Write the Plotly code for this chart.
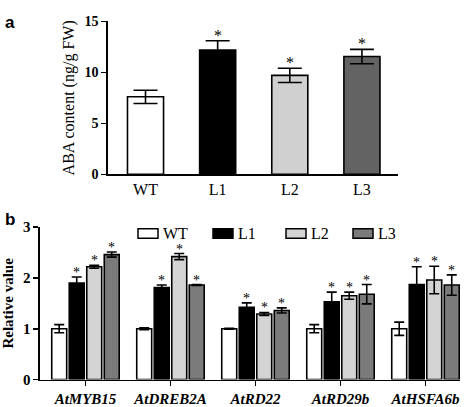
import plotly.graph_objects as go

# ---------------- data ----------------
a_groups = ["WT", "L1", "L2", "L3"]
a_values = [7.6, 12.2, 9.7, 11.55]
a_errors = [0.65, 0.9, 0.7, 0.7]
a_colors = ["#ffffff", "#000000", "#d0d0d0", "#636363"]
a_sig = [False, True, True, True]
a_yticks = [0, 5, 10, 15]

b_genes = ["AtMYB15", "AtDREB2A", "AtRD22", "AtRD29b", "AtHSFA6b"]
b_series = ["WT", "L1", "L2", "L3"]
b_colors = ["#ffffff", "#000000", "#d4d4d4", "#7b7b7b"]
b_wt = [1.0, 1.0, 1.0, 1.0, 1.0]
b_wt_err = [0.08, 0.02, 0.01, 0.08, 0.13]
b_l1 = [1.90, 1.81, 1.42, 1.53, 1.87]
b_l1_err = [0.12, 0.05, 0.09, 0.19, 0.35]
b_l2 = [2.22, 2.42, 1.29, 1.65, 1.96]
b_l2_err = [0.03, 0.06, 0.03, 0.07, 0.27]
b_l3 = [2.46, 1.86, 1.36, 1.68, 1.86]
b_l3_err = [0.05, 0.01, 0.05, 0.19, 0.20]
b_sig = [False, True, True, True]
b_yticks = [0, 1, 2, 3]

W, H = 472, 407
SERIF = "Liberation Serif, Times New Roman, serif"

fig = go.Figure()

# ---------------- panel a ----------------
fig.add_trace(go.Bar(
    x=a_groups, y=a_values, width=0.5,
    marker=dict(color=a_colors, line=dict(color="black", width=1.6)),
    error_y=dict(type="data", array=a_errors, color="black", thickness=1.6, width=12),
    xaxis="x", yaxis="y", showlegend=False, hoverinfo="skip",
))
annotations = []
for i, (v, e, s) in enumerate(zip(a_values, a_errors, a_sig)):
    if s:
        annotations.append(dict(x=i, y=v + e, xref="x", yref="y", text="*", showarrow=False,
                                yanchor="bottom", yshift=-4, borderpad=0,
                                font=dict(family=SERIF, size=16, color="black")))

# ---------------- panel b ----------------
b_vals = [b_wt, b_l1, b_l2, b_l3]
b_errs = [b_wt_err, b_l1_err, b_l2_err, b_l3_err]
slot = 0.206
bw = 0.176
for k, name in enumerate(b_series):
    off = (k - 1.5) * slot
    fig.add_trace(go.Bar(
        x=list(range(len(b_genes))), y=b_vals[k], width=bw, offset=off - bw / 2,
        name=name,
        marker=dict(color=b_colors[k], line=dict(color="black", width=1.6)),
        error_y=dict(type="data", array=b_errs[k], color="black", thickness=1.6, width=5),
        xaxis="x2", yaxis="y2", showlegend=False, hoverinfo="skip",
    ))
    if b_sig[k]:
        for i, (v, e) in enumerate(zip(b_vals[k], b_errs[k])):
            annotations.append(dict(x=i + off, y=v + e, xref="x2", yref="y2", text="*",
                                    showarrow=False, yanchor="bottom", yshift=-4, borderpad=0,
                                    font=dict(family=SERIF, size=14, color="black")))

# manual legend (rectangular swatches)
def px(x):
    return x / W

def py(y):
    return 1 - y / H

shapes = []
leg_x = [138, 213, 286, 353]
for k, name in enumerate(b_series):
    x0 = leg_x[k]
    shapes.append(dict(type="rect", xref="paper", yref="paper",
                       x0=px(x0), x1=px(x0 + 20), y0=py(241), y1=py(231),
                       fillcolor=b_colors[k], line=dict(color="black", width=1.5)))
    annotations.append(dict(x=px(x0 + 23), y=py(236), xref="paper", yref="paper",
                            text=name, showarrow=False, xanchor="left", yanchor="middle",
                            font=dict(family=SERIF, size=16, color="black")))

# panel letters
annotations.append(dict(x=px(3), y=py(3), xref="paper", yref="paper", text="<b>a</b>",
                        showarrow=False, xanchor="left", yanchor="top",
                        font=dict(family="Liberation Sans, Arial, sans-serif", size=17, color="black")))
annotations.append(dict(x=px(3), y=py(209), xref="paper", yref="paper", text="<b>b</b>",
                        showarrow=False, xanchor="left", yanchor="top",
                        font=dict(family="Liberation Sans, Arial, sans-serif", size=17, color="black")))

axis_common = dict(showline=True, linecolor="black", linewidth=1.6, showgrid=False,
                   zeroline=False, ticks="outside", tickcolor="black", tickwidth=1.6, ticklen=5)

fig.update_layout(
    width=W, height=H, autosize=False,
    margin=dict(l=0, r=0, t=0, b=0),
    paper_bgcolor="white", plot_bgcolor="white",
    barmode="overlay",
    showlegend=False,
    hovermode=False,
    annotations=annotations,
    shapes=shapes,
    xaxis=dict(domain=[px(108), px(398)], range=[-0.52, 3.5], showline=True, linecolor="black",
               linewidth=1.6, showgrid=False, zeroline=False, ticks="",
               tickfont=dict(family=SERIF, size=16, color="black"), anchor="y"),
    yaxis=dict(domain=[py(174), py(14)], range=[0, 15], tickvals=a_yticks, anchor="x",
               tickfont=dict(family=SERIF, size=14, color="black", weight="bold"),
               title=dict(text="ABA content (ng/g FW)", standoff=6,
                          font=dict(family=SERIF, size=16, color="black")),
               **axis_common),
    xaxis2=dict(domain=[px(40), px(460)], range=[-0.535, 4.406], anchor="y2",
                tickvals=list(range(len(b_genes))), ticktext=b_genes,
                tickfont=dict(family=SERIF, size=15, color="black", style="italic", weight="bold"),
                **axis_common),
    yaxis2=dict(domain=[py(388.7), py(229.3)], range=[0, 3], tickvals=b_yticks, anchor="x2",
                tickfont=dict(family=SERIF, size=15, color="black", weight="bold"),
                title=dict(text="<b>Relative value</b>", standoff=7,
                           font=dict(family=SERIF, size=15, color="black")),
                **axis_common),
)

fig.write_html("out.html", config={"displayModeBar": False, "staticPlot": True},
               post_script="document.body.style.margin='0px';document.body.style.padding='0px';")
